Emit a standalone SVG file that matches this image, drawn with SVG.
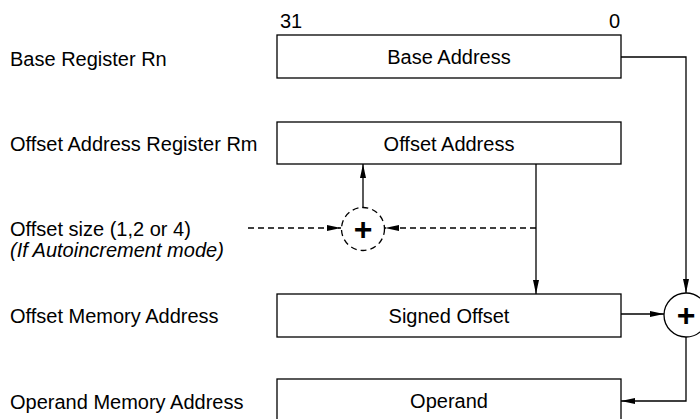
<svg xmlns="http://www.w3.org/2000/svg" width="700" height="419" viewBox="0 0 700 419">
<style>
text{font-family:"Liberation Sans",Arial,sans-serif;font-size:20px;fill:#000}
.box{fill:#fff;stroke:#000;stroke-width:1.3}
.ln{fill:none;stroke:#000;stroke-width:1.3}
.dash{stroke-dasharray:6 4}
.c{text-anchor:middle}
.plus{font-size:32px;font-weight:bold;text-anchor:middle}
</style>
<defs>
<marker id="ah" viewBox="0 0 14 8" refX="14" refY="4" markerWidth="14" markerHeight="8" markerUnits="userSpaceOnUse" orient="auto">
<path d="M0,1 L14,4 L0,7 Z" fill="#000"/>
</marker>
</defs>
<rect width="700" height="419" fill="#fff"/>
<g id="labels">
<text x="10" y="66">Base Register Rn</text>
<text x="10" y="151">Offset Address Register Rm</text>
<text x="10" y="236">Offset size (1,2 or 4)</text>
<text x="10" y="257" font-style="italic">(If Autoincrement mode)</text>
<text x="10" y="323">Offset Memory Address</text>
<text x="10" y="409">Operand Memory Address</text>
</g>
<g id="connectors">
<polyline class="ln" points="621,57 686,57 686,293" marker-end="url(#ah)"/>
<line class="ln" x1="536" y1="164" x2="536" y2="294" marker-end="url(#ah)"/>
<line class="ln" x1="363" y1="208" x2="363" y2="164" marker-end="url(#ah)"/>
<line class="ln dash" x1="248" y1="228" x2="341" y2="228" marker-end="url(#ah)"/>
<line class="ln dash" x1="536" y1="228" x2="385" y2="228" marker-end="url(#ah)"/>
<line class="ln" x1="621" y1="314" x2="664" y2="314" marker-end="url(#ah)"/>
<polyline class="ln" points="686,337 686,401 621,401" marker-end="url(#ah)"/>
</g>
<g id="base">
<text x="280" y="28">31</text>
<text x="620" y="28" text-anchor="end">0</text>
<rect class="box" x="277" y="35" width="344" height="43"/>
<text class="c" x="449" y="64">Base Address</text>
</g>
<g id="offset">
<rect class="box" x="277" y="122" width="344" height="42"/>
<text class="c" x="449" y="151">Offset Address</text>
</g>
<g id="adder1">
<circle class="ln dash" cx="363" cy="229" r="21.5" stroke-dasharray="4 3" fill="#fff"/>
<text class="plus" x="363" y="240">+</text>
</g>
<g id="signed">
<rect class="box" x="277" y="294" width="344" height="43"/>
<text class="c" x="449" y="323">Signed Offset</text>
</g>
<g id="adder2">
<circle class="ln" cx="686" cy="315" r="22" fill="#fff"/>
<text class="plus" x="686" y="326">+</text>
</g>
<g id="operand">
<rect class="box" x="277" y="379" width="344" height="43"/>
<text class="c" x="449" y="408">Operand</text>
</g>
</svg>
